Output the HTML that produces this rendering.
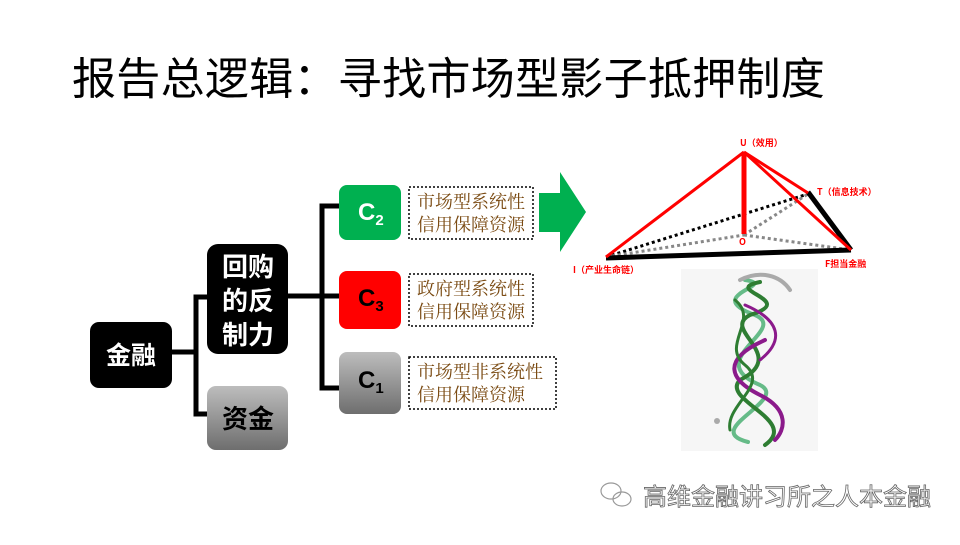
<!DOCTYPE html>
<html><head><meta charset="utf-8"><style>
html,body{margin:0;padding:0;background:#fff}
body{width:960px;height:540px;position:relative;overflow:hidden;font-family:"Liberation Sans","Noto Sans CJK SC",sans-serif}
</style></head><body>
<svg width="960" height="540" viewBox="0 0 960 540" xmlns="http://www.w3.org/2000/svg">
<defs>
<linearGradient id="gr" x1="0" y1="0" x2="0" y2="1"><stop offset="0" stop-color="#bdbdbd"/><stop offset="1" stop-color="#6e6e6e"/></linearGradient>
</defs>
<text x="72" y="94" font-size="44" letter-spacing="0.3" fill="#000" font-family="'Noto Sans CJK SC',sans-serif">报告总逻辑：寻找市场型影子抵押制度</text>

<g stroke="#000" stroke-width="5" fill="none">
<line x1="172" y1="352" x2="196" y2="352"/>
<path d="M209 297 H196 V414 H209"/>
<line x1="288" y1="296" x2="322" y2="296"/>
<path d="M339 206 H322 V388 H339"/>
<line x1="322" y1="296" x2="339" y2="296"/>
</g>

<rect x="90" y="322" width="82" height="66" rx="9" fill="#000"/>
<text x="131" y="364" font-size="25" font-weight="bold" fill="#fff" text-anchor="middle" font-family="'Noto Sans CJK SC',sans-serif">金融</text>
<rect x="207" y="244" width="81" height="110" rx="11" fill="#000"/>
<g font-size="26" font-weight="bold" fill="#fff" text-anchor="middle" font-family="'Noto Sans CJK SC',sans-serif">
<text x="248" y="276">回购</text><text x="248" y="310">的反</text><text x="248" y="344">制力</text></g>
<rect x="207" y="386" width="81" height="64" rx="9" fill="url(#gr)"/>
<text x="248" y="428" font-size="26" font-weight="bold" fill="#000" text-anchor="middle" font-family="'Noto Sans CJK SC',sans-serif">资金</text>

<rect x="339" y="185" width="62" height="55" rx="8" fill="#00b050"/>
<text x="358" y="220" font-size="24" font-weight="bold" fill="#fff">C<tspan font-size="15" dy="5">2</tspan></text>
<rect x="339" y="271" width="62" height="58" rx="8" fill="#ff0000"/>
<text x="358" y="306" font-size="24" font-weight="bold" fill="#000">C<tspan font-size="15" dy="5">3</tspan></text>
<rect x="339" y="352" width="62" height="62" rx="8" fill="url(#gr)"/>
<text x="358" y="388" font-size="24" font-weight="bold" fill="#000">C<tspan font-size="15" dy="5">1</tspan></text>

<g fill="none" stroke="#000" stroke-width="1.5" stroke-dasharray="2,2">
<rect x="409" y="187" width="124" height="52"/>
<rect x="409" y="274" width="124" height="52"/>
<rect x="409" y="357" width="147" height="52"/>
</g>
<g font-size="18" fill="#7a4a12" font-family="'Noto Serif CJK SC',serif">
<text x="417" y="208">市场型系统性</text><text x="417" y="231">信用保障资源</text>
<text x="417" y="295">政府型系统性</text><text x="417" y="318">信用保障资源</text>
<text x="417" y="378">市场型非系统性</text><text x="417" y="401">信用保障资源</text>
</g>

<polygon points="539,193 560,193 560,172 586,212 560,252 560,232 539,232" fill="#00b050"/>

<g fill="none">
<line x1="606" y1="257" x2="808" y2="194" stroke="#000" stroke-width="3" stroke-dasharray="3,3"/>
<line x1="606" y1="257" x2="744" y2="235" stroke="#888" stroke-width="3" stroke-dasharray="3,3"/>
<line x1="744" y1="235" x2="851" y2="250" stroke="#888" stroke-width="3" stroke-dasharray="3,3"/>
<line x1="744" y1="235" x2="808" y2="194" stroke="#888" stroke-width="3" stroke-dasharray="3,3"/>
<line x1="606" y1="258" x2="851" y2="250" stroke="#000" stroke-width="5"/>
<line x1="808" y1="192" x2="851" y2="250" stroke="#000" stroke-width="5"/>
<line x1="744" y1="152" x2="606" y2="257" stroke="#ff0000" stroke-width="3"/>
<line x1="744" y1="152" x2="851" y2="250" stroke="#ff0000" stroke-width="3"/>
<line x1="744" y1="152" x2="808" y2="193" stroke="#ff0000" stroke-width="3"/>
<line x1="744" y1="152" x2="744" y2="234" stroke="#ff0000" stroke-width="5"/>
</g>
<g font-size="9" font-weight="bold" fill="#ff0000" font-family="'Noto Sans CJK SC',sans-serif">
<text x="740" y="146">U（效用）</text>
<text x="817" y="195">T（信息技术）</text>
<text x="739" y="245">O</text>
<text x="573" y="273">I（产业生命链）</text>
<text x="825" y="267">F担当金融</text>
</g>

<rect x="681" y="269" width="137" height="182" fill="#f6f6f6"/>
<g fill="none" stroke-width="4" stroke-linecap="round">
<path d="M748 442 C700 430 790 400 760 385 C700 360 790 330 755 315 C700 295 780 285 745 280" stroke="#6b8" />
<path d="M765 445 C800 420 720 400 740 380 C790 355 720 330 750 315 C800 300 720 290 760 282" stroke="#2e7d32"/>
<path d="M740 280 C760 270 780 275 790 290" stroke="#aaa"/>
<path d="M765 340 C720 360 730 380 760 395 C790 410 785 430 775 440" stroke="#8b1a8b"/>
<path d="M745 305 C780 320 785 340 760 360" stroke="#8b1a8b" stroke-width="3"/>
<path d="M735 300 C760 320 720 345 745 365 C770 385 725 405 730 430" stroke="#2e7d32" stroke-width="3"/>
</g>
<circle cx="717" cy="421" r="3" fill="#aaa"/>

<g fill="none" stroke="#999" stroke-width="1.2">
<ellipse cx="611" cy="491" rx="10" ry="8"/><ellipse cx="622" cy="499" rx="9" ry="7"/>
</g>
<text x="643" y="505" font-size="24" fill="#fff" stroke="#666" stroke-width="0.8" font-family="'Noto Sans CJK SC',sans-serif">高维金融讲习所之人本金融</text>
</svg>
</body></html>
